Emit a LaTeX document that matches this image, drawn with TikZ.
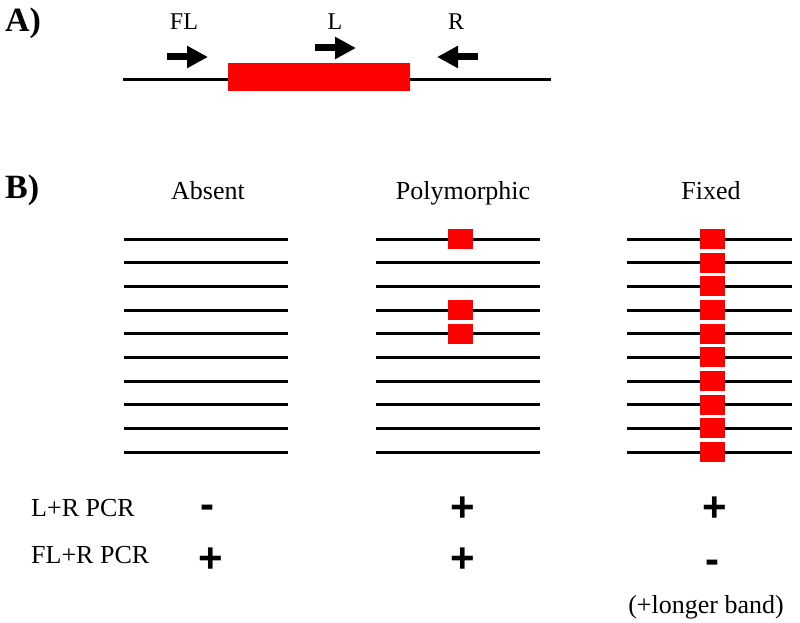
\documentclass[tikz,border=0pt]{standalone}
\usepackage{fontspec}
\setmainfont{Liberation Serif}
\newfontfamily\signfont{Liberation Sans}
\usetikzlibrary{arrows.meta}
\begin{document}
\begin{tikzpicture}[x=1pt,y=-1pt,
  dnaline/.style={line width=3pt, black},
  insbox/.style={fill=red, draw=none},
  lbl/.style={font=\fontsize{26}{30}\selectfont, anchor=base, inner sep=0pt},
  albl/.style={font=\fontsize{24}{28}\selectfont, anchor=base, inner sep=0pt},
  panel/.style={font=\fontsize{34}{40}\selectfont\bfseries, anchor=base west, inner sep=0pt},
  sign/.style={font=\signfont\bfseries\fontsize{42}{48}\selectfont, inner sep=0pt, anchor=base},
  primer/.style={-{Triangle[length=21pt,width=21pt]}, line width=7pt}]
\useasboundingbox (0,0) rectangle (800,623);
% Panel A
\node[panel] (pa) at (5,32) {A)};
\coordinate (a0) at (123,80);
\coordinate (a1) at (551,80);
\draw[dnaline] (a0) -- (a1);
\node[insbox, minimum width=182pt, minimum height=28pt, inner sep=0pt] (te) at (319,77) {};
\coordinate (fl0) at (167,57); \coordinate (fl1) at (208,57);
\coordinate (l0) at (315,48); \coordinate (l1) at (356,48);
\coordinate (r0) at (478,57); \coordinate (r1) at (437,57);
\draw[primer] (fl0) -- (fl1);
\draw[primer] (l0) -- (l1);
\draw[primer] (r0) -- (r1);
\node[albl] (tfl) at (184,30) {FL};
\node[albl] (tl) at (335,30) {L};
\node[albl] (tr) at (456,30) {R};
% Panel B
\node[panel] (pb) at (5,198) {B)};
\node[lbl] (habs) at (208,199) {Absent};
\node[lbl] (hpol) at (463,199) {Polymorphic};
\node[lbl] (hfix) at (711,199) {Fixed};
\foreach \i in {0,...,9} {
  \pgfmathsetmacro{\yy}{239+23.67*\i}
  \coordinate (abs\i a) at (124,\yy); \coordinate (abs\i b) at (288,\yy);
  \coordinate (pol\i a) at (376,\yy); \coordinate (pol\i b) at (540,\yy);
  \coordinate (fix\i a) at (627,\yy); \coordinate (fix\i b) at (792,\yy);
  \draw[dnaline] (abs\i a) -- (abs\i b);
  \draw[dnaline] (pol\i a) -- (pol\i b);
  \draw[dnaline] (fix\i a) -- (fix\i b);
  \node[insbox, minimum width=25pt, minimum height=20pt, inner sep=0pt] (fixins\i) at (712.5,\yy) {};
}
\foreach \i in {0,3,4} {
  \pgfmathsetmacro{\yy}{239+23.67*\i}
  \node[insbox, minimum width=25pt, minimum height=20pt, inner sep=0pt] (polins\i) at (460.5,\yy) {};
}
% Results
\node[lbl, anchor=base west] (r1lab) at (31,516) {L+R PCR};
\node[lbl, anchor=base west] (r2lab) at (31,563) {FL+R PCR};
\node[sign] (s11) at (207.5,518) {-};
\node[sign] (s12) at (462.5,521) {+};
\node[sign] (s13) at (715,521) {+};
\node[sign] (s21) at (210.5,572) {+};
\node[sign] (s22) at (462.5,572) {+};
\node[sign] (s23) at (712.5,573) {-};
\node[lbl] (lb) at (706,613) {(+longer band)};
\end{tikzpicture}
\end{document}
